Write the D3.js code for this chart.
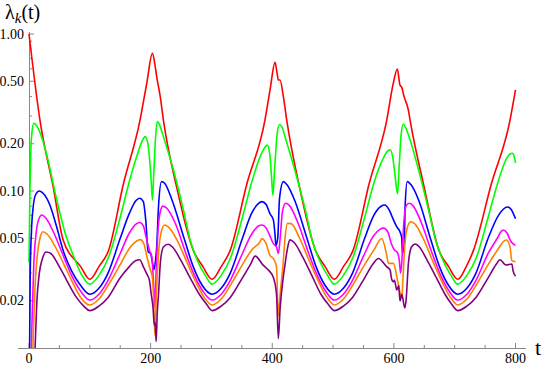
<!DOCTYPE html>
<html><head><meta charset="utf-8">
<script src="https://cdn.jsdelivr.net/npm/d3@7"></script>
<style>body{margin:0;background:#fff;overflow:hidden}</style></head>
<body><svg id="c" width="545" height="367"></svg>
<script>
const xTicks=[0,200,400,600,800];
const xMinor=[50,100,150,250,300,350,450,500,550,650,700,750];
const yTicks=[0.02,0.05,0.1,0.2,0.5,1];
const yMinor=[0.03,0.04,0.06,0.07,0.08,0.09,0.3,0.4,0.6,0.7,0.8,0.9];
const seriesNames=["k=1","k=2","k=3","k=4","k=5","k=6"];
const seriesColors=["#ff0000","#00ff00","#0000ff","#ff00ff","#ff8000","#800080"];

const red=[[0,1],[18,0.283],[40,0.105],[56,0.049],[85,0.033],[100,0.0274],[115,0.033],[131,0.042],[155,0.11],[182.6,0.283],[193.6,0.485],[203,0.753],[207.2,0.634],[210,0.534],[215.8,0.399],[221,0.283],[243,0.105],[270,0.042],[286,0.033],[301,0.0274],[316,0.033],[331,0.042],[358,0.11],[388,0.283],[396.4,0.44],[404.6,0.66],[408,0.56],[410,0.509],[412.8,0.509],[418.3,0.399],[423.8,0.283],[445,0.105],[471,0.042],[487,0.033],[502,0.0274],[517,0.033],[533,0.042],[559,0.11],[588.3,0.283],[599,0.485],[605.7,0.598],[610,0.473],[613,0.457],[616.8,0.399],[623.8,0.328],[626.6,0.283],[650,0.105],[674,0.042],[690,0.033],[705,0.0274],[719,0.033],[731,0.042],[760,0.11],[791,0.283],[800,0.44]];
const green=[[0,0.035],[1.5,0.1],[3,0.18],[5,0.24],[8,0.27],[12,0.262],[20,0.225],[30,0.165],[45,0.09],[60,0.053],[75,0.037],[87,0.029],[100,0.0255],[115,0.029],[131,0.038],[150,0.068],[165,0.115],[178,0.17],[186,0.208],[191,0.222],[195,0.205],[198,0.165],[201,0.115],[203,0.0875],[205,0.125],[208,0.215],[211,0.277],[215,0.262],[221,0.222],[237.5,0.136],[254,0.0756],[265,0.0487],[280,0.034],[290,0.029],[301,0.0255],[316,0.029],[332,0.038],[351,0.068],[366,0.113],[380,0.165],[388,0.19],[392,0.196],[396,0.17],[399,0.12],[401,0.094],[404,0.14],[408,0.23],[412,0.265],[416,0.255],[422,0.215],[438,0.132],[455,0.074],[466,0.048],[481,0.034],[491,0.029],[502,0.0255],[517,0.029],[533,0.038],[552,0.068],[567,0.112],[582,0.16],[590,0.18],[594,0.183],[598,0.165],[602,0.125],[606,0.096],[609,0.15],[612,0.23],[615.6,0.267],[619,0.255],[626,0.215],[642,0.13],[658,0.073],[669,0.048],[684,0.034],[694,0.029],[705,0.0255],[720,0.029],[736,0.038],[755,0.068],[770,0.11],[785,0.16],[791,0.172],[795,0.174],[798,0.165],[800,0.151]];
const blue=[[0,0.004],[1,0.01],[2,0.03],[4,0.055],[7,0.08],[11,0.095],[17,0.1],[24,0.096],[34,0.082],[45,0.06],[56,0.042],[70,0.031],[85,0.025],[100,0.022],[115,0.024],[130,0.03],[150,0.05],[165,0.072],[176,0.087],[182,0.09],[188,0.0856],[192,0.065],[196,0.041],[200,0.04],[203,0.035],[205.6,0.0316],[208,0.036],[210,0.044],[213,0.08],[218,0.1148],[223,0.112],[235,0.088],[255,0.05],[270,0.033],[285,0.025],[301,0.022],[316,0.024],[331,0.03],[351,0.05],[366,0.072],[377,0.083],[383,0.0856],[390,0.082],[396,0.072],[401.8,0.0655],[404.6,0.0525],[406,0.045],[409,0.05],[412,0.09],[418.3,0.1148],[424,0.11],[437,0.087],[457,0.05],[472,0.033],[487,0.025],[502,0.022],[517,0.024],[532,0.03],[552,0.05],[567,0.07],[579,0.08],[585.5,0.0815],[592,0.076],[599,0.066],[604.8,0.059],[610,0.055],[613,0.05],[614,0.04],[617,0.045],[618.5,0.08],[622,0.1148],[628,0.11],[641,0.087],[660,0.05],[675,0.033],[690,0.025],[705,0.022],[720,0.024],[735,0.03],[755,0.05],[772,0.07],[786.7,0.079],[792,0.077],[800,0.0666]];
const magenta=[[0,0.003],[3,0.007],[5,0.015],[8,0.035],[12,0.055],[16,0.066],[21,0.0703],[28,0.067],[40,0.055],[56,0.039],[70,0.029],[85,0.023],[100,0.0202],[115,0.022],[130,0.027],[150,0.04],[165,0.054],[177,0.062],[182,0.063],[188,0.06],[193,0.05],[198,0.042],[202,0.038],[205,0.025],[207,0.018],[209,0.03],[212,0.055],[216,0.074],[220,0.0801],[226,0.078],[240,0.063],[258,0.04],[272,0.029],[286,0.023],[301,0.0202],[316,0.022],[331,0.027],[351,0.04],[366,0.053],[378,0.06],[383,0.0607],[390,0.058],[396,0.052],[402,0.046],[407,0.044],[410,0.04],[413,0.05],[417,0.075],[422,0.0835],[428,0.081],[442,0.063],[460,0.04],[474,0.029],[488,0.023],[502,0.0202],[517,0.022],[532,0.027],[552,0.04],[567,0.052],[577,0.057],[583,0.058],[590,0.055],[596,0.046],[601,0.042],[605,0.041],[609,0.036],[611,0.03],[613,0.035],[616,0.06],[620,0.08],[625,0.0835],[631,0.081],[645,0.063],[663,0.04],[677,0.029],[691,0.023],[705,0.0202],[720,0.022],[735,0.027],[755,0.04],[770,0.05],[776,0.055],[780,0.0565],[786,0.054],[792,0.048],[796,0.046],[800,0.0452]];
const orange=[[0,0.002],[5,0.006],[7,0.012],[10,0.025],[14,0.04],[18,0.05],[23,0.055],[30,0.053],[42,0.045],[56,0.035],[70,0.027],[85,0.021],[100,0.0188],[115,0.0205],[130,0.025],[150,0.034],[165,0.043],[177,0.048],[183,0.049],[189,0.046],[194,0.038],[199,0.032],[203,0.028],[205,0.02],[207,0.0121],[209,0.02],[213,0.04],[218,0.056],[223,0.0607],[229,0.059],[243,0.049],[260,0.035],[275,0.026],[288,0.021],[301,0.0188],[316,0.0205],[331,0.025],[351,0.034],[366,0.042],[379,0.047],[383,0.0497],[391,0.045],[396,0.039],[402,0.037],[407,0.033],[410,0.016],[413,0.022],[418,0.035],[421,0.05],[425,0.0622],[431,0.062],[445,0.05],[462,0.035],[477,0.026],[490,0.021],[502,0.0188],[517,0.0205],[532,0.025],[552,0.034],[567,0.042],[580,0.0498],[588,0.0394],[591,0.0346],[599,0.0346],[607,0.0258],[613,0.0207],[615,0.028],[618,0.045],[623,0.06],[628,0.0637],[634,0.062],[648,0.05],[665,0.035],[680,0.026],[693,0.021],[705,0.0188],[720,0.0205],[735,0.025],[755,0.034],[772,0.043],[781,0.048],[785,0.0487],[791,0.044],[794,0.036],[800,0.0354]];
const purple=[[0,0.002],[8,0.006],[10,0.01],[13,0.02],[17,0.03],[22,0.037],[28,0.0409],[36,0.04],[48,0.034],[62,0.027],[78,0.021],[90,0.0185],[100,0.0173],[115,0.0185],[130,0.021],[150,0.028],[165,0.033],[175,0.036],[182,0.0365],[188,0.033],[193,0.03],[198,0.027],[201,0.022],[204,0.018],[206,0.014],[207.5,0.0145],[209,0.011],[211,0.017],[213,0.022],[216,0.035],[221,0.044],[229,0.0458],[236,0.044],[250,0.036],[265,0.028],[280,0.022],[292,0.019],[301,0.0173],[316,0.0185],[331,0.021],[351,0.028],[364,0.034],[372,0.0385],[385,0.0337],[393.6,0.0314],[402,0.028],[407,0.022],[410,0.0115],[413,0.018],[418,0.028],[421,0.034],[425,0.043],[429,0.0488],[436,0.047],[450,0.038],[465,0.029],[480,0.022],[492,0.019],[502,0.0173],[517,0.0185],[532,0.021],[552,0.028],[565,0.034],[574.5,0.0372],[588,0.033],[593.8,0.0314],[596,0.0278],[599,0.0264],[601,0.027],[604.8,0.0234],[608,0.025],[610,0.02],[613,0.022],[618,0.018],[620,0.02],[624,0.035],[629,0.044],[635,0.046],[642,0.044],[655,0.036],[670,0.028],[684,0.022],[695,0.019],[705,0.0173],[720,0.0185],[735,0.021],[755,0.028],[768,0.034],[774.5,0.0365],[781,0.0345],[784.5,0.0338],[794,0.0343],[796,0.031],[800,0.0287]];
const seriesData=[red,green,blue,magenta,orange,purple];

const svg=d3.select("#c");
const x=d3.scaleLinear().domain([0,800]).range([29,515.5]);
const y=d3.scaleLog().domain([0.01,1]).range([348,34]);
const axisColor="#888";
const font="Liberation Serif, Times New Roman, serif";

svg.append("defs").append("clipPath").attr("id","clip")
  .append("rect").attr("x",18).attr("y",20).attr("width",512).attr("height",328);

svg.append("line").attr("x1",18).attr("x2",526).attr("y1",348.5).attr("y2",348.5).attr("stroke",axisColor);
svg.append("line").attr("x1",29.5).attr("x2",29.5).attr("y1",348).attr("y2",32).attr("stroke",axisColor);

svg.selectAll(".xt").data(xTicks).enter().append("line")
  .attr("x1",d=>x(d)).attr("x2",d=>x(d)).attr("y1",348).attr("y2",343).attr("stroke",axisColor);
svg.selectAll(".xm").data(xMinor).enter().append("line")
  .attr("x1",d=>x(d)).attr("x2",d=>x(d)).attr("y1",348).attr("y2",345).attr("stroke",axisColor);
svg.selectAll(".xl").data(xTicks).enter().append("text")
  .attr("x",d=>x(d)).attr("y",363).attr("text-anchor","middle")
  .style("font-family",font).style("font-size","14px").text(d=>d);

svg.selectAll(".yt").data(yTicks).enter().append("line")
  .attr("y1",d=>y(d)).attr("y2",d=>y(d)).attr("x1",29).attr("x2",34).attr("stroke",axisColor);
svg.selectAll(".ym").data(yMinor).enter().append("line")
  .attr("y1",d=>y(d)).attr("y2",d=>y(d)).attr("x1",29).attr("x2",32).attr("stroke",axisColor);
svg.selectAll(".yl").data(yTicks).enter().append("text")
  .attr("x",24).attr("y",d=>y(d)+4.5).attr("text-anchor","end")
  .style("font-family",font).style("font-size","14px").text(d=>d.toFixed(2));

const yl=svg.append("text").attr("x",5).attr("y",19).style("font-family",font).style("font-size","20px");
yl.append("tspan").text("λ");
yl.append("tspan").attr("font-style","italic").style("font-size","15px").attr("dy",4).text("k");
yl.append("tspan").attr("dy",-4).text("(t)");
svg.append("text").attr("x",535).attr("y",355).style("font-family",font).style("font-size","22px").text("t");

const line=d3.line().x(d=>x(d[0])).y(d=>y(d[1])).curve(d3.curveMonotoneX);
svg.append("g").attr("clip-path","url(#clip)").selectAll("path").data(seriesData).enter().append("path")
  .attr("d",line).attr("fill","none").attr("stroke",(d,i)=>seriesColors[i]).attr("stroke-width",1.6)
  .attr("stroke-linejoin","round");
</script></body></html>
